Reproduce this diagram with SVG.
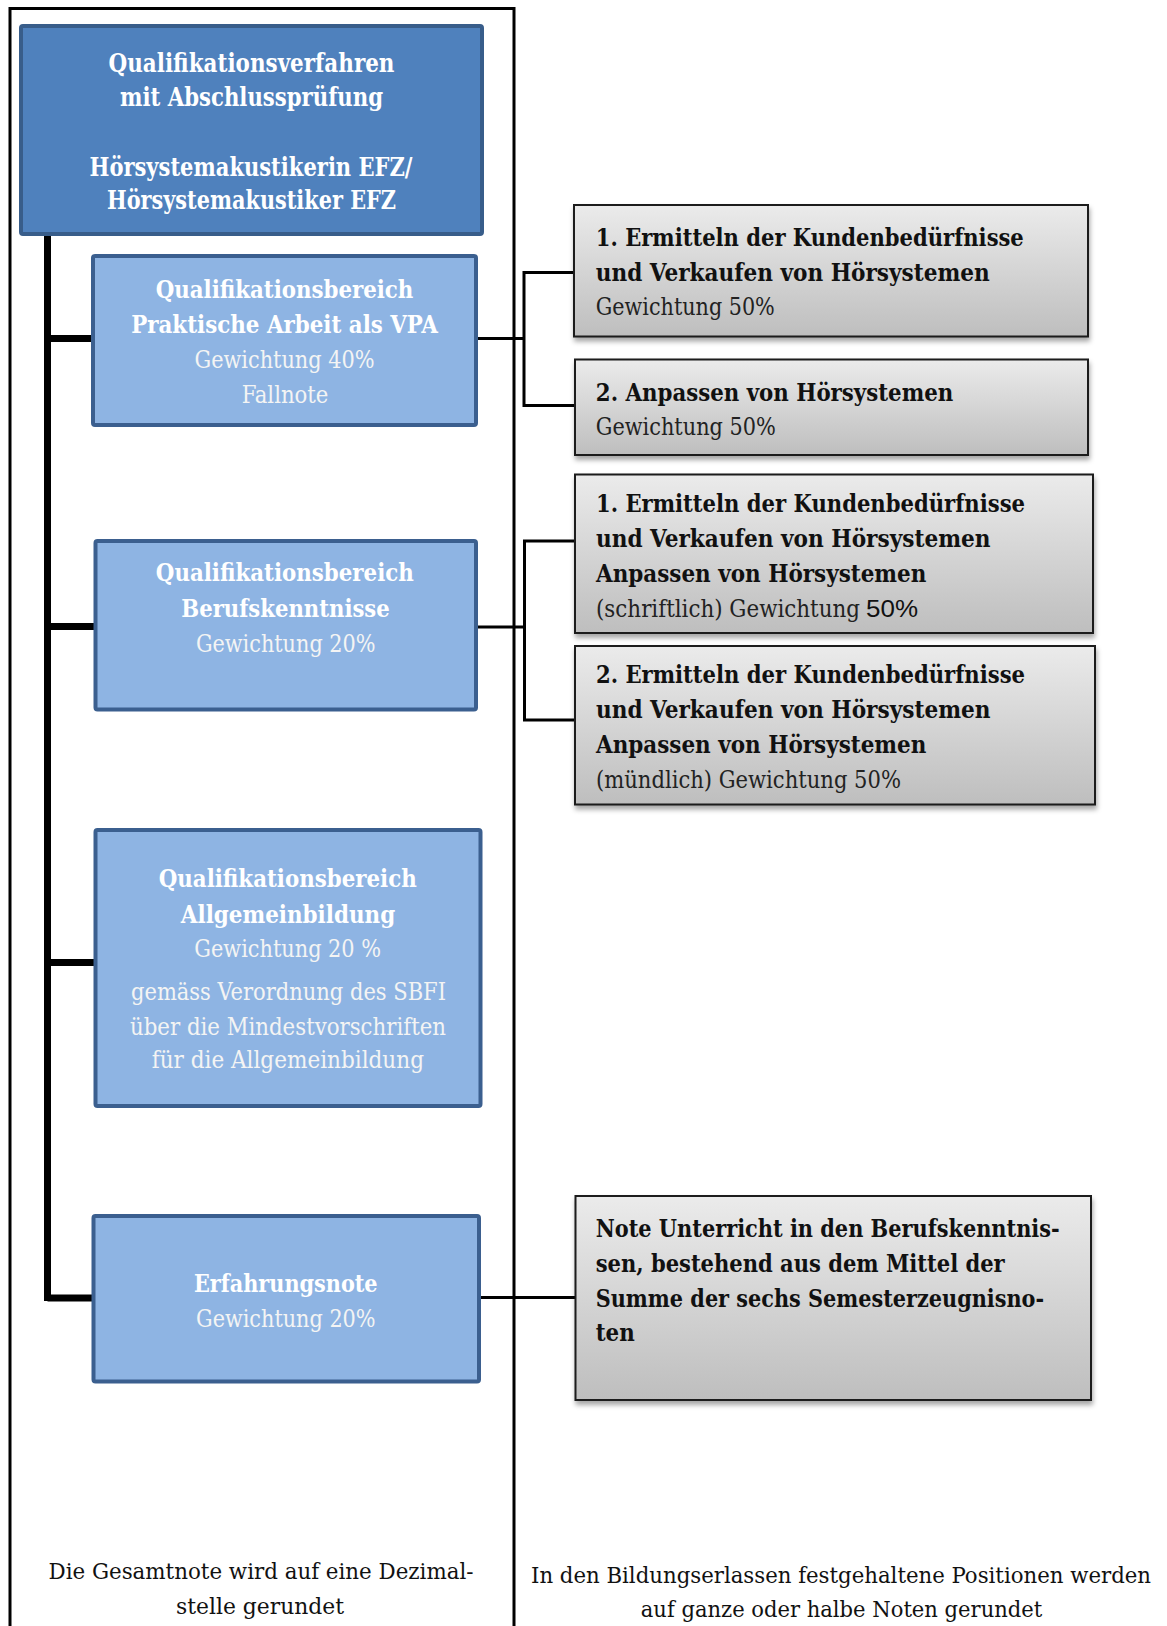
<svg xmlns="http://www.w3.org/2000/svg" width="1167" height="1626" viewBox="0 0 1167 1626">
<style>
.t{font-family:"DejaVu Serif","Liberation Serif",serif;font-stretch:condensed}
.wb{fill:#fff;font-weight:bold;font-size:25px;text-anchor:middle}
.wb25{fill:#fff;font-weight:bold;font-size:26px;text-anchor:middle}
.wr{fill:#F4F4F4;font-size:24px;text-anchor:middle}
.kb{fill:#111;font-weight:bold;font-size:24px}
.kr{fill:#222;font-size:24px}
.foot{fill:#111;font-size:23px;text-anchor:middle}
.dark{fill:#4F81BD;stroke:#385D8A;stroke-width:4}
.light{fill:#8EB4E3;stroke:#3B5F8F;stroke-width:4}
.gray{fill:url(#gg);stroke:#1a1a1a;stroke-width:2;filter:url(#sh)}
.thick{stroke:#000;stroke-width:7;fill:none}
.thin{stroke:#000;stroke-width:3;fill:none}
</style>
<defs>
<linearGradient id="gg" x1="0" y1="0" x2="0" y2="1">
<stop offset="0" stop-color="#EBEBEB"/>
<stop offset="1" stop-color="#BEBEBE"/>
</linearGradient>
<filter id="sh" x="-5%" y="-5%" width="115%" height="125%">
<feDropShadow dx="1" dy="4" stdDeviation="2.5" flood-color="#000" flood-opacity="0.35"/>
</filter>
</defs>
<rect width="1167" height="1626" fill="#fff"/>
<path d="M10 1630 V8.5 H514 V1630" stroke="#000" stroke-width="3" fill="none"/>
<g id="connectors">
<path class="thick" d="M47.5 233 V1301"/>
<path class="thick" d="M47.5 338.5 H94 M47.5 626.5 H95 M47.5 962.5 H95 M47.5 1298 H93"/>
<path class="thin" d="M476 338.5 H524 M574 272.5 H524 V405.5 H575"/>
<path class="thin" d="M476 627 H524.5 M575 541 H524.5 V720 H575"/>
<path class="thin" d="M480 1297.5 H575"/>
</g>
<g id="n_top">
<rect class="dark" x="21" y="26" width="461" height="208" rx="2"/>
<text class="t wb25" x="251.5" y="71.7" textLength="286" lengthAdjust="spacingAndGlyphs">Qualifikationsverfahren</text>
<text class="t wb25" x="251.5" y="106" textLength="263" lengthAdjust="spacingAndGlyphs">mit Abschlussprüfung</text>
<text class="t wb25" x="251" y="175.7" textLength="323" lengthAdjust="spacingAndGlyphs">Hörsystemakustikerin EFZ/</text>
<text class="t wb25" x="251.5" y="209.3" textLength="289" lengthAdjust="spacingAndGlyphs">Hörsystemakustiker EFZ</text>
</g>
<g id="n_vpa">
<rect class="light" x="93" y="256" width="383" height="169" rx="2"/>
<text class="t wb" x="284.5" y="297.7" textLength="257.7" lengthAdjust="spacingAndGlyphs">Qualifikationsbereich</text>
<text class="t wb" x="284.5" y="333.3" textLength="306.7" lengthAdjust="spacingAndGlyphs">Praktische Arbeit als VPA</text>
<text class="t wr" x="284.5" y="368.3" textLength="180" lengthAdjust="spacingAndGlyphs">Gewichtung 40%</text>
<text class="t wr" x="285" y="402.7" textLength="86.7" lengthAdjust="spacingAndGlyphs">Fallnote</text>
</g>
<g id="n_bk">
<rect class="light" x="95.5" y="541" width="380.5" height="168.5" rx="2"/>
<text class="t wb" x="284.8" y="581" textLength="258" lengthAdjust="spacingAndGlyphs">Qualifikationsbereich</text>
<text class="t wb" x="285.5" y="616.5" textLength="208.5" lengthAdjust="spacingAndGlyphs">Berufskenntnisse</text>
<text class="t wr" x="285.7" y="651.5" textLength="179.5" lengthAdjust="spacingAndGlyphs">Gewichtung 20%</text>
</g>
<g id="n_ab">
<rect class="light" x="95.5" y="830" width="385" height="276" rx="2"/>
<text class="t wb" x="287.7" y="887.3" textLength="258" lengthAdjust="spacingAndGlyphs">Qualifikationsbereich</text>
<text class="t wb" x="288" y="922.5" textLength="214.3" lengthAdjust="spacingAndGlyphs">Allgemeinbildung</text>
<text class="t wr" x="287.7" y="957.3" textLength="186.7" lengthAdjust="spacingAndGlyphs">Gewichtung 20 %</text>
<text class="t wr" x="288.5" y="1000" textLength="315" lengthAdjust="spacingAndGlyphs">gemäss Verordnung des SBFI</text>
<text class="t wr" x="288" y="1035" textLength="316" lengthAdjust="spacingAndGlyphs">über die Mindestvorschriften</text>
<text class="t wr" x="287.8" y="1068.3" textLength="272.3" lengthAdjust="spacingAndGlyphs">für die Allgemeinbildung</text>
</g>
<g id="n_en">
<rect class="light" x="93.5" y="1216" width="385.5" height="165.5" rx="2"/>
<text class="t wb" x="285.8" y="1291.5" textLength="183.6" lengthAdjust="spacingAndGlyphs">Erfahrungsnote</text>
<text class="t wr" x="285.8" y="1327" textLength="179.5" lengthAdjust="spacingAndGlyphs">Gewichtung 20%</text>
</g>
<g id="n_r1">
<rect class="gray" x="574" y="205" width="514" height="131.5"/>
<text class="t kb" x="595.8" y="246" textLength="428" lengthAdjust="spacingAndGlyphs">1. Ermitteln der Kundenbedürfnisse</text>
<text class="t kb" x="595.8" y="280.7" textLength="394" lengthAdjust="spacingAndGlyphs">und Verkaufen von Hörsystemen</text>
<text class="t kr" x="595.8" y="315" textLength="179" lengthAdjust="spacingAndGlyphs">Gewichtung 50%</text>
</g>
<g id="n_r2">
<rect class="gray" x="575" y="359.5" width="513" height="95.5"/>
<text class="t kb" x="595.8" y="400.7" textLength="357.5" lengthAdjust="spacingAndGlyphs">2. Anpassen von Hörsystemen</text>
<text class="t kr" x="595.8" y="435" textLength="180" lengthAdjust="spacingAndGlyphs">Gewichtung 50%</text>
</g>
<g id="n_r3">
<rect class="gray" x="575" y="474.5" width="518" height="158.5"/>
<text class="t kb" x="596" y="511.7" textLength="429" lengthAdjust="spacingAndGlyphs">1. Ermitteln der Kundenbedürfnisse</text>
<text class="t kb" x="596" y="547.3" textLength="394.6" lengthAdjust="spacingAndGlyphs">und Verkaufen von Hörsystemen</text>
<text class="t kb" x="596" y="581.7" textLength="330.4" lengthAdjust="spacingAndGlyphs">Anpassen von Hörsystemen</text>
<text class="t kr" x="596" y="616.7" textLength="264" lengthAdjust="spacingAndGlyphs">(schriftlich) Gewichtung</text>
<text x="866" y="616.7" font-family="'Liberation Sans',Arial,sans-serif" font-size="24" fill="#111" textLength="52" lengthAdjust="spacingAndGlyphs">50%</text>
</g>
<g id="n_r4">
<rect class="gray" x="575" y="646" width="520" height="158.5"/>
<text class="t kb" x="596" y="683.3" textLength="429" lengthAdjust="spacingAndGlyphs">2. Ermitteln der Kundenbedürfnisse</text>
<text class="t kb" x="596" y="718.3" textLength="394.6" lengthAdjust="spacingAndGlyphs">und Verkaufen von Hörsystemen</text>
<text class="t kb" x="596" y="753.3" textLength="330.4" lengthAdjust="spacingAndGlyphs">Anpassen von Hörsystemen</text>
<text class="t kr" x="596" y="788.3" textLength="305" lengthAdjust="spacingAndGlyphs">(mündlich) Gewichtung 50%</text>
</g>
<g id="n_r5">
<rect class="gray" x="575.5" y="1196" width="515.5" height="204"/>
<text class="t kb" x="595.7" y="1237" textLength="464" lengthAdjust="spacingAndGlyphs">Note Unterricht in den Berufskenntnis-</text>
<text class="t kb" x="595.7" y="1272" textLength="409" lengthAdjust="spacingAndGlyphs">sen, bestehend aus dem Mittel der</text>
<text class="t kb" x="595.7" y="1306.5" textLength="448.4" lengthAdjust="spacingAndGlyphs">Summe der sechs Semesterzeugnisno-</text>
<text class="t kb" x="595.7" y="1341" textLength="39" lengthAdjust="spacingAndGlyphs">ten</text>
</g>
<g id="footnotes">
<text class="t foot" x="261" y="1579" textLength="425" lengthAdjust="spacingAndGlyphs">Die Gesamtnote wird auf eine Dezimal-</text>
<text class="t foot" x="260" y="1613.5" textLength="168" lengthAdjust="spacingAndGlyphs">stelle gerundet</text>
<text class="t foot" x="841" y="1583" textLength="620" lengthAdjust="spacingAndGlyphs">In den Bildungserlassen festgehaltene Positionen werden</text>
<text class="t foot" x="841.5" y="1617" textLength="401.5" lengthAdjust="spacingAndGlyphs">auf ganze oder halbe Noten gerundet</text>
</g>
</svg>
